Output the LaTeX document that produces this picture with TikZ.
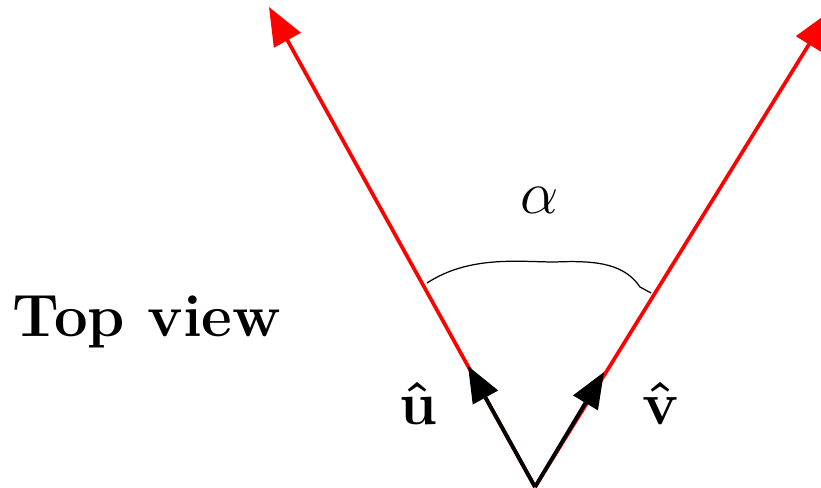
\documentclass[tikz,border=0pt]{standalone}
\usepackage{amsmath,amssymb}
\usepackage{bm}
\usepackage{tikz}
\usepackage{xcolor}
\usetikzlibrary{arrows.meta}

\begin{document}
\begin{tikzpicture}[x=0.01cm,y=-0.01cm,
  ray/.style={red, line width=1.05pt, -{Triangle[length=0.38cm,width=0.3cm]}},
  unitvec/.style={black, line width=1.1pt, -{Triangle[length=0.36cm,width=0.28cm]}},
  lbl/.style={font=\fontsize{17}{20}\selectfont}]
  \useasboundingbox (0,0) rectangle (821,488);
  % origin and ray ends
  \coordinate (O) at (535,487);
  \coordinate (L) at (269,7);
  \coordinate (R) at (829,12);
  \coordinate (U) at (468,366);
  \coordinate (V) at (604,372);
  % red rays
  \draw[ray] (O) -- (L);
  \draw[ray] (O) -- (R);
  % unit vectors
  \draw[unitvec] (O) -- (U);
  \draw[unitvec] (O) -- (V);
  % angle between them
  \coordinate (a1) at (427,283);
  \coordinate (a2) at (651,293);
  \draw[line width=0.35pt] (a1) .. controls (470,255) and (520,262) .. (555,262)
    .. controls (600,260) and (625,265) .. (640,287) -- (a2);
  \node[lbl] (alpha) at (540,200) {$\alpha$};
  \node[lbl] (uhat) at (418,403) {$\bm{\hat{\mathbf{u}}}$};
  \node[lbl] (vhat) at (661,403) {$\bm{\hat{\mathbf{v}}}$};
  \node[lbl] (top) at (147,322) {\bfseries Top view};
\end{tikzpicture}
\end{document}
